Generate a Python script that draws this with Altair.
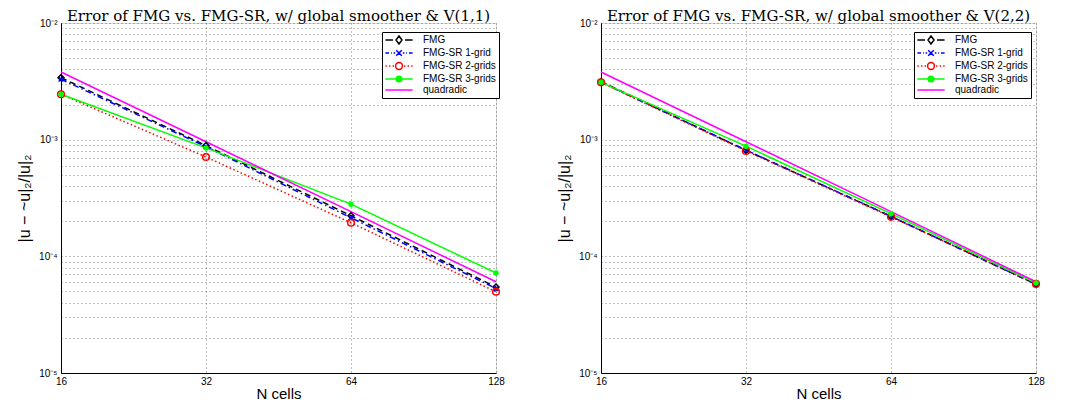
import altair as alt
import pandas as pd

# ---------------- data ----------------
N = [16, 32, 64, 128]
series_names = ["FMG", "FMG-SR 1-grid", "FMG-SR 2-grids", "FMG-SR 3-grids", "quadradic"]

left_fmg = [3.4e-3, 8.9e-4, 2.23e-4, 5.45e-5]
left_sr1 = [3.3e-3, 8.7e-4, 2.14e-4, 5.3e-5]
left_sr2 = [2.45e-3, 7.1e-4, 1.94e-4, 4.97e-5]
left_sr3 = [2.45e-3, 8.5e-4, 2.8e-4, 7.2e-5]
left_quad = [3.8e-3, 9.6e-4, 2.42e-4, 6.05e-5]

right_fmg = [3.15e-3, 8.1e-4, 2.2e-4, 5.75e-5]
right_sr1 = [3.1e-3, 8.15e-4, 2.2e-4, 5.75e-5]
right_sr2 = [3.1e-3, 8.0e-4, 2.18e-4, 5.8e-5]
right_sr3 = [3.1e-3, 8.8e-4, 2.32e-4, 5.9e-5]
right_quad = [3.8e-3, 9.6e-4, 2.42e-4, 6.05e-5]

x_ticks = [16, 32, 64, 128]
y_ticks = [m * 10.0 ** e for e in (-5, -4, -3) for m in range(1, 10)] + [1e-2]

titles = [
    "Error of FMG vs. FMG-SR, w/ global smoother & V(1,1)",
    "Error of FMG vs. FMG-SR, w/ global smoother & V(2,2)",
]

# ---------------- styles ----------------
STYLE = {
    "FMG": dict(color="#000000", dash=[6, 4], shape="diamond", filled=False, size=36),
    "FMG-SR 1-grid": dict(color="#0000ff", dash=[6, 3, 1.5, 3], shape="M-1,-1L1,1M-1,1L1,-1", filled=False, size=22),
    "FMG-SR 2-grids": dict(color="#ff0000", dash=[1.5, 2.5], shape="circle", filled=False, size=45),
    "FMG-SR 3-grids": dict(color="#00ff00", dash=None, shape="circle", filled=True, size=30),
    "quadradic": dict(color="#ff00ff", dash=None, shape=None),
}

# legend glyphs (line sample + marker), in units of 4 px (symbolSize 64)
LEGEND_PATHS = [
    "M-3.4,0L-1.5,0M1.5,0L3.4,0M0,-1L0.75,0L0,1L-0.75,0Z",
    "M-3.4,0L-2.5,0M-2.0,0L-1.8,0M-1.35,0L-0.95,0M0.95,0L1.35,0M1.8,0L2.0,0M2.5,0L3.4,0"
    "M-0.7,-0.7L0.7,0.7M-0.7,0.7L0.7,-0.7",
    "M-3.4,0L-3.05,0M-2.5,0L-2.15,0M-1.6,0L-1.25,0M1.25,0L1.6,0M2.15,0L2.5,0M3.05,0L3.4,0"
    "M0.85,0A0.85,0.85 0 1,1 -0.85,0A0.85,0.85 0 1,1 0.85,0Z",
    "M-3.4,0L3.4,0M0.7,0A0.7,0.7 0 1,1 -0.7,0A0.7,0.7 0 1,1 0.7,0Z",
    "M-3.4,0L3.4,0",
]
LEGEND_STROKES = [STYLE[n]["color"] for n in series_names]
LEGEND_FILLS = ["transparent", "transparent", "transparent", "#00ff00", "transparent"]

SANS = "Liberation Sans"
W, H = 435, 350


def make_panel(title, values, legend_x):
    rows = []
    for name, vals in zip(series_names, values):
        for n, v in zip(N, vals):
            rows.append({"series": name, "N": n, "err": v})
    df = pd.DataFrame(rows)

    x_enc = alt.X(
        "N:Q",
        scale=alt.Scale(type="log", base=2, domain=[16, 128], nice=False),
        axis=alt.Axis(
            values=x_ticks, format="d", title="N cells", grid=True,
            gridDash=[1, 3], gridColor="#000000", gridOpacity=0.5,
            ticks=False, labelFlush=False, labelPadding=3,
            labelFont=SANS, labelFontSize=10, labelColor="black",
            titleFont=SANS, titleFontSize=15, titleFontWeight="normal",
            titleColor="black", titlePadding=0,
            domainColor="black", domainWidth=1,
        ),
    )
    y_enc = alt.Y(
        "err:Q",
        scale=alt.Scale(type="log", domain=[1e-5, 1e-2], nice=False),
        axis=alt.Axis(
            values=y_ticks,
            labelExpr=(
                "abs(log(datum.value)/LN10+2)<0.01 ? '10⁻²' : "
                "abs(log(datum.value)/LN10+3)<0.01 ? '10⁻³' : "
                "abs(log(datum.value)/LN10+4)<0.01 ? '10⁻⁴' : "
                "abs(log(datum.value)/LN10+5)<0.01 ? '10⁻⁵' : ''"
            ),
            title="|u − ~u|₂/|u|₂", grid=True,
            gridDash=[1, 3], gridColor="#000000", gridOpacity=0.5,
            ticks=False, labelFlush=False, labelOverlap=False, labelPadding=4,
            labelFont=SANS, labelFontSize=10, labelColor="black",
            titleFont=SANS, titleFontSize=16, titleFontWeight="normal",
            titleColor="black", titlePadding=6,
            domainColor="black", domainWidth=1,
        ),
    )

    layers = []
    for name in series_names:
        st = STYLE[name]
        line_kwargs = dict(color=st["color"], strokeWidth=1.5)
        if st["dash"]:
            line_kwargs["strokeDash"] = st["dash"]
        layers.append(
            alt.Chart(df).transform_filter(alt.datum.series == name)
            .mark_line(**line_kwargs).encode(x=x_enc, y=y_enc)
        )
    for name in series_names:
        st = STYLE[name]
        if not st["shape"]:
            continue
        layers.append(
            alt.Chart(df).transform_filter(alt.datum.series == name)
            .mark_point(shape=st["shape"], color=st["color"], filled=st["filled"],
                        size=st["size"], opacity=1, strokeWidth=1.5)
            .encode(x=x_enc, y=y_enc)
        )

    leg = alt.Legend(
        title=None, orient="none", legendX=legend_x, legendY=9,
        fillColor="white", strokeColor="black", padding=3,
        labelFont=SANS, labelFontSize=10, labelColor="black",
        symbolSize=64, symbolStrokeWidth=1.5, symbolOffset=9,
        labelOffset=19, rowPadding=0,
    )
    legend_layer = (
        alt.Chart(df).transform_filter("false")
        .mark_point(opacity=1, strokeWidth=1.5, size=64)
        .encode(
            shape=alt.Shape("series:N", scale=alt.Scale(domain=series_names, range=LEGEND_PATHS), legend=leg),
            stroke=alt.Stroke("series:N", scale=alt.Scale(domain=series_names, range=LEGEND_STROKES), legend=leg),
            fill=alt.Fill("series:N", scale=alt.Scale(domain=series_names, range=LEGEND_FILLS), legend=leg),
        )
    )
    layers.append(legend_layer)

    return alt.layer(*layers).properties(
        width=W, height=H,
        title=alt.TitleParams(title, font="DejaVu Serif", fontSize=15,
                              fontWeight="normal", color="black", anchor="middle", offset=-6),
    )


left = make_panel(titles[0], [left_fmg, left_sr1, left_sr2, left_sr3, left_quad], 321)
right = make_panel(titles[1], [right_fmg, right_sr1, right_sr2, right_sr3, right_quad], 313)

chart = (
    alt.hconcat(left, right, spacing=51)
    .resolve_scale(shape="independent", stroke="independent", fill="independent")
    .resolve_legend(shape="independent", stroke="independent", fill="independent")
    .properties(padding={"left": 8, "top": 0, "right": 5, "bottom": 0})
    .configure_view(stroke="black", strokeWidth=1)
    .configure(background="white")
)

chart.save("out.html", embed_options={"renderer": "svg", "actions": False})
